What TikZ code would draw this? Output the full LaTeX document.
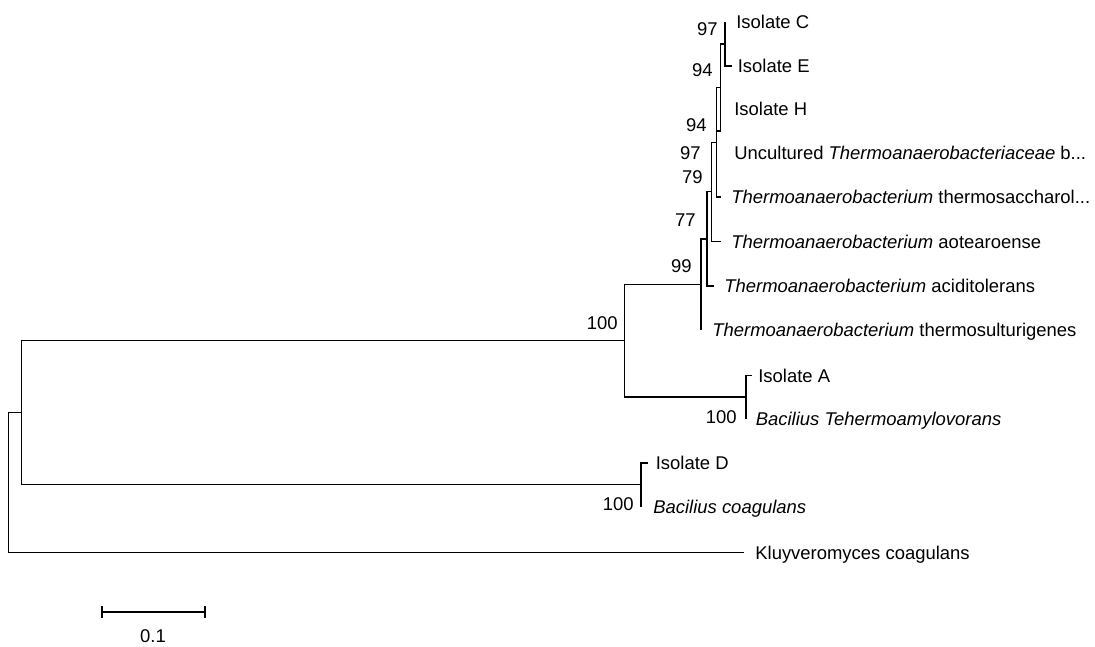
\documentclass[tikz,border=0pt]{standalone}
\usepackage{fontspec}
\setmainfont{Liberation Sans}
\usetikzlibrary{positioning}

\begin{document}
\begin{tikzpicture}[
    x=0.02cm, y=-0.02cm,
    branch/.style={line width=0.6pt},
    taxon/.style={anchor=west, inner sep=0pt, text height=7.5pt, text depth=0pt, font=\fontsize{10.5}{12}\selectfont},
    boot/.style={taxon, anchor=east}
]
\useasboundingbox (0,0) rectangle (1095,646);

% tips
\coordinate (tC) at (725,22);
\coordinate (tE) at (731.7,66);
\coordinate (tH) at (716.7,109);
\coordinate (tU) at (716.7,153);
\coordinate (tTS) at (721,197);
\coordinate (tAO) at (720.5,241.5);
\coordinate (tAC) at (714,286);
\coordinate (tSU) at (701,329.5);
\coordinate (tA) at (751.5,375.5);
\coordinate (tBT) at (746,418.5);
\coordinate (tD) at (647.5,463);
\coordinate (tBC) at (641,506.5);
\coordinate (tK) at (744,552.5);

% internal nodes
\coordinate (n97a) at (725,44);
\coordinate (nHU) at (716.7,131);
\coordinate (n94) at (720.7,87.5);
\coordinate (n97b) at (716.7,142.3);
\coordinate (n79) at (711.7,191.9);
\coordinate (n77) at (707,239);
\coordinate (n99) at (701,284.2);
\coordinate (nA) at (746,397);
\coordinate (n2) at (624.5,340.6);
\coordinate (nD) at (641,484.8);
\coordinate (n1) at (21.5,412.7);
\coordinate (root) at (8.5,482.6);

% branches
\foreach \p/\c in {root/n1, root/tK, n1/n2, n1/nD, n2/n99, n2/nA,
                   nA/tA, nA/tBT, nD/tD, nD/tBC, n99/n77, n99/tSU,
                   n77/n79, n77/tAC, n79/n97b, n79/tAO, n97b/n94, n97b/tTS,
                   n94/n97a, n94/nHU, nHU/tH, nHU/tU, n97a/tC, n97a/tE}
  \draw[branch] (\p) |- (\c);

% taxa
\node[taxon] (lC) at (736,22) {Isolate C};
\node[taxon] (lE) at (737.5,66) {Isolate E};
\node[taxon] (lH) at (734,109) {Isolate H};
\node[taxon] (lU) at (734,153) {Uncultured \textit{Thermoanaerobacteriaceae} b...};
\node[taxon] (lTS) at (731,197) {\textit{Thermoanaerobacterium} thermosaccharol...};
\node[taxon] (lAO) at (731,241.5) {\textit{Thermoanaerobacterium} aotearoense};
\node[taxon] (lAC) at (724,286) {\textit{Thermoanaerobacterium} aciditolerans};
\node[taxon] (lSU) at (712,329.5) {\textit{Thermoanaerobacterium} thermosulturigenes};
\node[taxon] (lA) at (758,375.5) {Isolate A};
\node[taxon] (lBT) at (755.5,418.5) {\textit{Bacilius Tehermoamylovorans}};
\node[taxon] (lD) at (655.5,463) {Isolate D};
\node[taxon] (lBC) at (653,506.5) {\textit{Bacilius coagulans}};
\node[taxon] (lK) at (755,552.5) {Kluyveromyces coagulans};

% bootstrap values
\node[boot] (b97a) at (718,29) {97};
\node[boot] (b94a) at (713,70) {94};
\node[boot] (b94b) at (707,125) {94};
\node[boot] (b97b) at (701,153) {97};
\node[boot] (b79) at (703,177) {79};
\node[boot] (b77) at (696,220) {77};
\node[boot] (b99) at (692,266) {99};
\node[boot] (b100a) at (618,323) {100};
\node[boot] (b100b) at (737,417) {100};
\node[boot] (b100c) at (634,504) {100};

% scale bar
\coordinate (sbL) at (102,612);
\coordinate (sbR) at (205,612);
\draw[branch] (sbL) -- (sbR);
\draw[branch] (sbL) ++(0,-6) -- ++(0,12);
\draw[branch] (sbR) ++(0,-6) -- ++(0,12);
\node[taxon, anchor=center] (sbText) at (153,636) {0.1};
\end{tikzpicture}
\end{document}
